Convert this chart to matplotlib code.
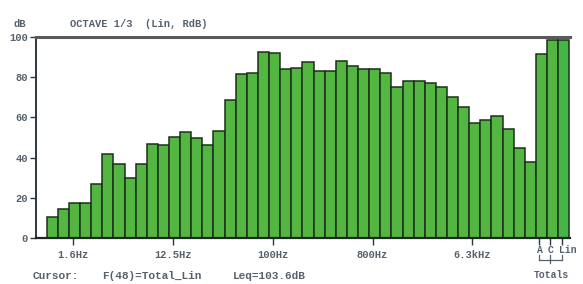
import matplotlib.pyplot as plt
import matplotlib.transforms as mtransforms
import numpy as np

# 1/3 octave band levels (dB), 1 Hz .. 20 kHz, then totals A, C, Lin
band_levels = [10.3, 14.5, 17.3, 17.3, 26.9, 41.7, 36.9, 29.8, 36.9, 47.0,
               46.4, 50.2, 52.7, 49.7, 46.4, 53.0, 68.6, 81.8, 82.2, 92.4,
               91.8, 84.1, 84.6, 87.6, 83.0, 83.0, 88.3, 85.8, 84.3, 84.1,
               82.1, 75.1, 78.0, 78.0, 77.2, 75.2, 70.2, 65.2, 57.2, 58.9,
               60.8, 54.2, 45.0, 37.6]
total_names = ["A", "C", "Lin"]
total_levels = [91.6, 98.3, 98.5]

freq_ticks = [1.85, 10.85, 19.85, 28.8, 37.75]
freq_labels = ["1.6Hz", "12.5Hz", "100Hz", "800Hz", "6.3kHz"]
total_ticks = [43.8, 44.8, 45.8]

y_ticks = [0, 20, 40, 60, 80, 100]

title = "OCTAVE 1/3  (Lin, RdB)"
cursor_text = ["Cursor:", "F(48)=Total_Lin", "Leq=103.6dB"]

FONT = "Liberation Mono"
TXT = "#56616d"
GREEN = "#52b640"
EDGE = "#1b2f1b"

fig = plt.figure(figsize=(5.83, 2.84), dpi=100)
ax = fig.add_axes([36 / 583, 46 / 284, 534 / 583, 201 / 284])

levels = band_levels + total_levels
x = np.arange(len(levels))
colors = [GREEN] * len(band_levels) + [GREEN, GREEN, "#45b548"]
ax.bar(x, levels, width=1.0, color=colors, edgecolor=EDGE, linewidth=1.1,
       zorder=2)

ax.set_xlim(-1.46, 46.56)
ax.set_ylim(0, 100)

ax.spines["right"].set_visible(False)
ax.spines["top"].set_color("#5a5a5a")
ax.spines["top"].set_linewidth(2.2)
ax.spines["left"].set_color("#2e3640")
ax.spines["left"].set_linewidth(1.4)
ax.spines["bottom"].set_color("#1e2620")
ax.spines["bottom"].set_linewidth(1.6)

ax.set_yticks(y_ticks)
ax.set_yticklabels([str(v) for v in y_ticks], fontfamily=FONT,
                   fontsize=7.5, fontweight="bold", color=TXT)
ax.tick_params(axis="y", length=4, width=1, color="#2e3640", pad=2)

ax.set_xticks(freq_ticks + total_ticks)
ax.set_xticklabels(freq_labels + ["", "", ""], fontfamily=FONT,
                   fontsize=7.5, fontweight="bold", color=TXT)
ax.tick_params(axis="x", length=5, width=1, color="#2e3640", pad=4)

# labels of the totals and their bracket
trans = mtransforms.blended_transform_factory(ax.transData, ax.transAxes)
for tx, name in zip(total_ticks, total_names):
    ax.text(tx - 0.25, -0.06, name, transform=trans, ha="left", va="center",
            fontfamily=FONT, fontsize=7, fontweight="bold", color=TXT)
    ax.plot([tx, tx], [-0.085, -0.11], transform=trans, color=TXT,
            lw=0.9, clip_on=False)
ax.plot([total_ticks[0], total_ticks[-1]], [-0.11, -0.11], transform=trans,
        color=TXT, lw=0.9, clip_on=False)
ax.plot([total_ticks[1], total_ticks[1]], [-0.11, -0.125], transform=trans,
        color=TXT, lw=0.9, clip_on=False)
ax.text(44.9, -0.185, "Totals", transform=trans, ha="center", va="center",
        fontfamily=FONT, fontsize=7, fontweight="bold", color=TXT)

# header texts
fig.text(20 / 583, 1 - 24 / 284, "dB", ha="center", va="center",
         fontfamily=FONT, fontsize=7.5, fontweight="bold", color=TXT)
fig.text(70 / 583, 1 - 24 / 284, title, ha="left", va="center",
         fontfamily=FONT, fontsize=7.5, fontweight="bold", color=TXT)

# cursor line
for xp, s in zip([33, 102, 233], cursor_text):
    fig.text(xp / 583, 1 - 276 / 284, s, ha="left", va="center",
             fontfamily=FONT, fontsize=8, fontweight="bold", color=TXT)

fig.savefig("out.png", dpi=100)
